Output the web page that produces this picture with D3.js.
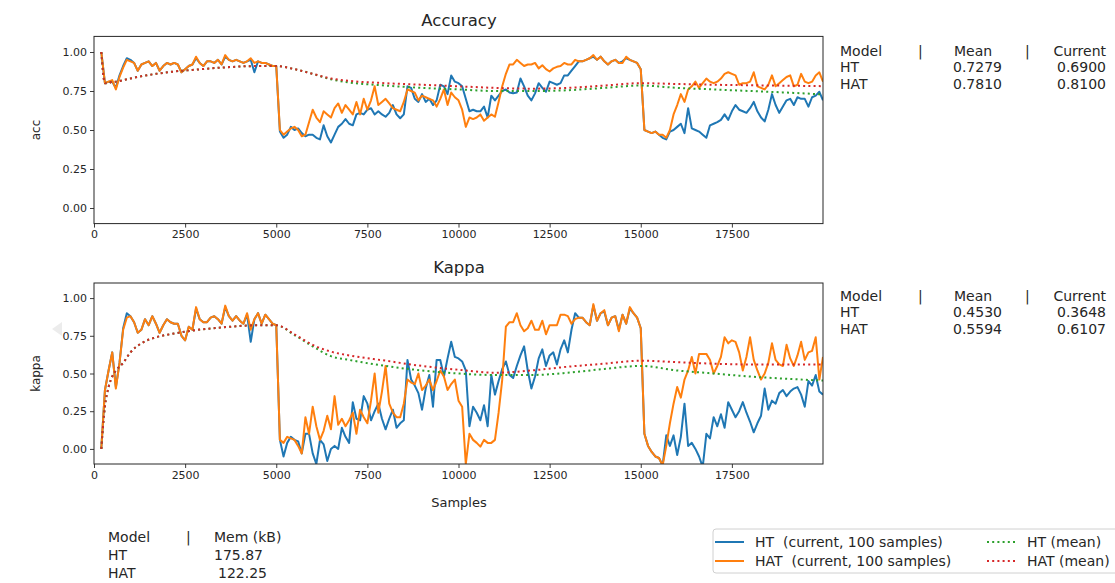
<!DOCTYPE html>
<html>
<head>
<meta charset="utf-8">
<script src="https://cdn.jsdelivr.net/npm/d3@7"></script>
<style>
  body { margin: 0; background: #fff; }
  svg { font-family: "DejaVu Sans", sans-serif; }
</style>
</head>
<body>
<svg id="chart" width="1115" height="583"></svg>
<script>
// samples seen at each evaluation (every 100 samples)
var samples = d3.range(200, 20001, 100);

// accuracy, current window
var accHT = [1.00,0.80,0.81,0.81,0.77,0.85,0.91,0.96,0.95,0.93,0.88,0.92,0.93,0.94,0.91,0.93,0.88,0.91,0.93,0.92,0.93,0.92,0.87,0.89,0.91,0.92,0.96,0.93,0.91,0.94,0.94,0.93,0.95,0.92,0.97,0.95,0.94,0.95,0.94,0.93,0.94,0.95,0.87,0.94,0.93,0.93,0.92,0.91,0.91,
  0.49,0.45,0.47,0.52,0.50,0.51,0.48,0.46,0.47,0.47,0.45,0.44,0.53,0.46,0.42,0.47,0.52,0.54,0.57,0.54,0.53,0.60,0.61,0.60,0.63,0.64,0.60,0.62,0.60,0.585,0.61,0.66,0.60,0.575,0.60,0.78,0.77,0.70,0.68,0.73,0.68,0.70,0.66,0.69,0.79,0.78,0.73,0.85,0.81,0.80,
  0.78,0.70,0.62,0.63,0.62,0.62,0.65,0.58,0.72,0.69,0.72,0.75,0.76,0.74,0.735,0.74,0.83,0.78,0.72,0.69,0.735,0.80,0.77,0.745,0.81,0.80,0.79,0.80,0.85,0.85,0.88,0.91,0.94,0.94,0.95,0.96,0.97,0.95,0.97,0.94,0.92,0.94,0.95,0.93,0.94,0.96,0.95,0.94,0.93,0.89,
  0.50,0.49,0.48,0.49,0.47,0.45,0.44,0.49,0.50,0.52,0.54,0.48,0.64,0.51,0.50,0.49,0.47,0.45,0.53,0.54,0.55,0.565,0.60,0.565,0.62,0.66,0.63,0.62,0.61,0.64,0.68,0.62,0.58,0.555,0.63,0.73,0.66,0.61,0.65,0.69,0.70,0.66,0.71,0.70,0.70,0.65,0.71,0.72,0.745,0.69];
var accHAT = [1.00,0.80,0.81,0.82,0.76,0.84,0.90,0.95,0.94,0.93,0.88,0.92,0.93,0.94,0.91,0.93,0.88,0.91,0.93,0.92,0.93,0.92,0.87,0.89,0.91,0.92,0.97,0.93,0.91,0.94,0.94,0.93,0.95,0.92,0.98,0.95,0.94,0.95,0.94,0.93,0.94,0.96,0.93,0.94,0.93,0.93,0.92,0.91,0.91,
  0.50,0.47,0.49,0.51,0.52,0.50,0.46,0.47,0.55,0.63,0.58,0.55,0.62,0.60,0.58,0.64,0.67,0.61,0.66,0.63,0.60,0.68,0.60,0.70,0.63,0.69,0.78,0.66,0.68,0.70,0.67,0.64,0.63,0.62,0.68,0.76,0.75,0.74,0.69,0.72,0.71,0.70,0.69,0.65,0.70,0.76,0.66,0.74,0.71,0.69,
  0.63,0.52,0.58,0.57,0.58,0.60,0.56,0.58,0.60,0.585,0.68,0.78,0.86,0.92,0.92,0.95,0.93,0.91,0.92,0.92,0.93,0.895,0.915,0.89,0.875,0.895,0.905,0.91,0.93,0.92,0.92,0.95,0.94,0.94,0.95,0.96,0.98,0.95,0.97,0.94,0.92,0.94,0.95,0.93,0.93,0.97,0.95,0.94,0.93,0.89,
  0.50,0.49,0.48,0.49,0.47,0.47,0.45,0.50,0.60,0.66,0.73,0.68,0.76,0.78,0.81,0.77,0.80,0.83,0.81,0.80,0.81,0.83,0.86,0.87,0.86,0.85,0.79,0.80,0.80,0.81,0.87,0.78,0.77,0.76,0.79,0.85,0.78,0.80,0.82,0.84,0.85,0.78,0.79,0.86,0.81,0.80,0.81,0.85,0.87,0.81];

// kappa, current window
var kappaHT = [0.00,0.39,0.52,0.64,0.41,0.57,0.80,0.90,0.88,0.84,0.77,0.79,0.86,0.82,0.88,0.83,0.77,0.82,0.86,0.84,0.83,0.83,0.75,0.72,0.81,0.79,0.93,0.86,0.84,0.84,0.87,0.88,0.86,0.83,0.94,0.88,0.85,0.88,0.85,0.83,0.89,0.71,0.86,0.90,0.83,0.89,0.86,0.83,0.82,
  0.06,-0.05,0.04,0.08,0.06,0.05,-0.03,0.10,0.10,-0.03,-0.10,0.06,0.03,-0.08,0.00,0.02,0.00,0.14,0.08,0.04,0.31,0.20,0.19,0.35,0.30,0.19,0.25,0.30,0.20,0.13,0.20,0.26,0.14,0.17,0.19,0.59,0.46,0.42,0.37,0.26,0.40,0.49,0.28,0.59,0.59,0.48,0.60,0.71,0.61,0.60,
  0.58,0.52,0.15,0.28,0.24,0.19,0.29,0.15,0.49,0.36,0.45,0.53,0.58,0.49,0.47,0.55,0.62,0.68,0.52,0.40,0.48,0.60,0.66,0.55,0.62,0.64,0.56,0.66,0.72,0.64,0.79,0.90,0.87,0.87,0.84,0.82,0.95,0.85,0.90,0.91,0.82,0.87,0.88,0.79,0.89,0.83,0.93,0.90,0.87,0.80,
  0.10,0.02,-0.02,-0.05,-0.06,-0.11,0.09,0.02,0.09,-0.04,0.08,0.30,0.02,0.04,0.00,-0.05,-0.12,0.10,0.07,0.21,0.15,0.23,0.14,0.31,0.26,0.21,0.25,0.31,0.24,0.18,0.11,0.17,0.22,0.40,0.26,0.32,0.30,0.37,0.39,0.35,0.38,0.40,0.41,0.36,0.28,0.45,0.42,0.49,0.38,0.36];
var kappaHAT = [0.00,0.39,0.52,0.64,0.40,0.57,0.79,0.87,0.88,0.84,0.77,0.79,0.86,0.82,0.88,0.83,0.77,0.82,0.86,0.84,0.83,0.83,0.75,0.72,0.81,0.79,0.94,0.86,0.84,0.84,0.87,0.88,0.86,0.83,0.95,0.88,0.85,0.88,0.85,0.83,0.90,0.79,0.86,0.90,0.83,0.89,0.86,0.83,0.82,
  0.06,0.04,0.08,0.07,0.06,0.02,-0.03,0.21,0.10,0.28,0.15,0.06,0.12,0.22,0.13,0.35,0.16,0.20,0.15,0.19,0.24,0.10,0.26,0.21,0.17,0.32,0.50,0.24,0.38,0.55,0.30,0.24,0.21,0.21,0.30,0.46,0.44,0.43,0.50,0.39,0.42,0.46,0.39,0.45,0.52,0.48,0.39,0.43,0.46,0.32,
  0.28,-0.10,0.10,0.06,0.04,0.015,0.06,0.04,0.04,0.06,0.24,0.46,0.81,0.84,0.84,0.90,0.82,0.78,0.80,0.85,0.79,0.79,0.85,0.76,0.82,0.82,0.82,0.89,0.89,0.88,0.83,0.86,0.87,0.87,0.84,0.82,0.96,0.85,0.90,0.92,0.82,0.87,0.88,0.78,0.89,0.83,0.94,0.90,0.87,0.80,
  0.10,0.02,-0.02,-0.05,-0.06,-0.11,0.02,0.17,0.30,0.41,0.34,0.46,0.52,0.61,0.50,0.63,0.63,0.63,0.59,0.50,0.55,0.61,0.74,0.70,0.72,0.71,0.64,0.52,0.61,0.74,0.59,0.52,0.46,0.50,0.57,0.70,0.59,0.56,0.55,0.69,0.60,0.55,0.62,0.71,0.59,0.64,0.65,0.74,0.46,0.61];

// running means
var meanSamples = [200,300,400,500,600,800,1000,1300,1700,2200,2700,3500,4500,5000,5500,6000,6500,7000,8000,9000,10000,11000,12000,13000,14000,15000,16000,17000,18000,19000,20000];
var accHTMean = [1.00,0.80,0.80,0.81,0.81,0.82,0.83,0.845,0.86,0.875,0.885,0.90,0.91,0.91,0.89,0.86,0.825,0.805,0.785,0.77,0.76,0.75,0.75,0.755,0.77,0.785,0.77,0.76,0.75,0.74,0.728];
var accHATMean = [1.00,0.80,0.80,0.81,0.81,0.82,0.83,0.845,0.86,0.875,0.885,0.90,0.91,0.91,0.89,0.86,0.83,0.815,0.80,0.79,0.78,0.77,0.765,0.77,0.785,0.80,0.795,0.79,0.787,0.784,0.781];
var kappaHTMean = [0.00,0.28,0.41,0.48,0.52,0.57,0.64,0.70,0.74,0.765,0.785,0.805,0.82,0.82,0.755,0.68,0.615,0.59,0.55,0.52,0.50,0.49,0.49,0.505,0.53,0.55,0.52,0.50,0.48,0.465,0.453];
var kappaHATMean = [0.00,0.28,0.41,0.48,0.52,0.57,0.64,0.70,0.74,0.765,0.785,0.805,0.82,0.82,0.76,0.69,0.645,0.62,0.585,0.55,0.525,0.505,0.52,0.545,0.565,0.585,0.575,0.565,0.56,0.56,0.559];

// tables
var xTicks = [0,2500,5000,7500,10000,12500,15000,17500];
var yTicks = [0,0.25,0.5,0.75,1.0];
var accTable = [["HT","0.7279","0.6900"],["HAT","0.7810","0.8100"]];
var kappaTable = [["HT","0.4530","0.3648"],["HAT","0.5594","0.6107"]];
var memTable = [["HT","175.87"],["HAT","122.25"]];

var colors = {ht:"#1f77b4", hat:"#ff7f0e", htMean:"#2ca02c", hatMean:"#d62728"};
var txt = "#262626";

var svg = d3.select("#chart");
var x = d3.scaleLinear().domain([0,20000]).range([94,823]);

function draw_panel(id, top, bottom, title, ylabel, ht, hat, htMean, hatMean){
	var y = d3.scaleLinear().domain([-0.1,1.1]).range([bottom, top]);
	var g = svg.append("g");

	g.append("clipPath").attr("id", id)
		.append("rect")
		.attr("x", x.range()[0]).attr("y", top)
		.attr("width", x.range()[1]-x.range()[0]).attr("height", bottom-top);

	var line = d3.line()
		.x(function(d){ return x(d[0]); })
		.y(function(d){ return y(d[1]); });
	var smooth = d3.line()
		.x(function(d){ return x(d[0]); })
		.y(function(d){ return y(d[1]); })
		.curve(d3.curveMonotoneX);

	var plot = g.append("g").attr("clip-path", "url(#"+id+")");
	plot.append("path").datum(d3.zip(samples, ht))
		.attr("d", line).attr("fill","none")
		.attr("stroke", colors.ht).attr("stroke-width", 2).attr("stroke-linejoin","round");
	plot.append("path").datum(d3.zip(samples, hat))
		.attr("d", line).attr("fill","none")
		.attr("stroke", colors.hat).attr("stroke-width", 2).attr("stroke-linejoin","round");
	plot.append("path").datum(d3.zip(meanSamples, htMean))
		.attr("d", smooth).attr("fill","none")
		.attr("stroke", colors.htMean).attr("stroke-width", 2).attr("stroke-dasharray","2,3.2");
	plot.append("path").datum(d3.zip(meanSamples, hatMean))
		.attr("d", smooth).attr("fill","none")
		.attr("stroke", colors.hatMean).attr("stroke-width", 2).attr("stroke-dasharray","2,3.2");

	//axes
	var xa = g.append("g").attr("transform","translate(0,"+bottom+")")
		.call(d3.axisBottom(x).tickValues(xTicks).tickFormat(d3.format("d")).tickSizeOuter(0).tickSize(4).tickPadding(3));
	var ya = g.append("g").attr("transform","translate("+x.range()[0]+",0)")
		.call(d3.axisLeft(y).tickValues(yTicks).tickFormat(d3.format(".2f")).tickSizeOuter(0).tickSize(4).tickPadding(3));
	[xa, ya].forEach(function(a){
		a.select(".domain").remove();
		a.selectAll("line").attr("stroke", txt).attr("stroke-width", 0.9);
		a.selectAll("text").attr("fill", txt).style("font-size","11px").style("font-family","DejaVu Sans");
	});

	//frame
	g.append("rect")
		.attr("x", x.range()[0]).attr("y", top)
		.attr("width", x.range()[1]-x.range()[0]).attr("height", bottom-top)
		.attr("fill","none").attr("stroke", txt).attr("stroke-width", 1);

	g.append("text").attr("x", 459).attr("y", top-10)
		.attr("text-anchor","middle").attr("fill", txt)
		.style("font-size","16.5px").text(title);
	g.append("text")
		.attr("transform","translate(40,"+((top+bottom)/2)+") rotate(-90)")
		.attr("text-anchor","middle").attr("fill", txt)
		.style("font-size","12px").text(ylabel);
}

draw_panel("clipAcc", 36.4, 223.6, "Accuracy", "acc", accHT, accHAT, accHTMean, accHATMean);
draw_panel("clipKappa", 283, 464, "Kappa", "kappa", kappaHT, kappaHAT, kappaHTMean, kappaHATMean);

svg.append("text").attr("x", 459).attr("y", 507)
	.attr("text-anchor","middle").attr("fill", txt)
	.style("font-size","13px").text("Samples");

// faint grey mark left of the kappa axis (present in the screenshot)
svg.append("path").attr("d","M52,329 L62,322 L62,336 Z").attr("fill","#ececec");

// metric tables on the right
function draw_table(rows, y0){
	var t = svg.append("g").attr("fill", txt).style("font-size","14px");
	t.append("text").attr("x",840).attr("y",y0).text("Model");
	t.append("text").attr("x",918).attr("y",y0).text("|");
	t.append("text").attr("x",954).attr("y",y0).text("Mean");
	t.append("text").attr("x",1025).attr("y",y0).text("|");
	t.append("text").attr("x",1106).attr("y",y0).attr("text-anchor","end").text("Current");
	rows.forEach(function(r, i){
		var yy = y0 + 16.3*(i+1);
		t.append("text").attr("x",840).attr("y",yy).text(r[0]);
		t.append("text").attr("x",1002).attr("y",yy).attr("text-anchor","end").text(r[1]);
		t.append("text").attr("x",1106).attr("y",yy).attr("text-anchor","end").text(r[2]);
	});
}
draw_table(accTable, 56);
draw_table(kappaTable, 301);

// memory table
var mt = svg.append("g").attr("fill", txt).style("font-size","14px");
mt.append("text").attr("x",108).attr("y",542).text("Model");
mt.append("text").attr("x",186).attr("y",542).text("|");
mt.append("text").attr("x",214).attr("y",542).text("Mem (kB)");
memTable.forEach(function(r, i){
	var yy = 542 + 18.2*(i+1);
	mt.append("text").attr("x",108).attr("y",yy).text(r[0]);
	mt.append("text").attr("x", i == 0 ? 214 : 218).attr("y",yy).text(r[1]);
});

// legend
var lg = svg.append("g");
lg.append("rect").attr("x",713).attr("y",529).attr("width",420).attr("height",44)
	.attr("rx",3).attr("fill","#fff").attr("stroke","#d0d0d0");
var items = [
	{label:"HT  (current, 100 samples)", color:colors.ht, dash:null, x:715, y:542},
	{label:"HAT  (current, 100 samples)", color:colors.hat, dash:null, x:715, y:561},
	{label:"HT (mean)", color:colors.htMean, dash:"2,3.2", x:987, y:542},
	{label:"HAT (mean)", color:colors.hatMean, dash:"2,3.2", x:987, y:561}
];
items.forEach(function(it){
	lg.append("line").attr("x1", it.x).attr("x2", it.x+29).attr("y1", it.y).attr("y2", it.y)
		.attr("stroke", it.color).attr("stroke-width", 2).attr("stroke-dasharray", it.dash);
	lg.append("text").attr("x", it.x+40).attr("y", it.y+5).attr("fill", txt)
		.style("font-size","14px").style("white-space","pre").text(it.label);
});
</script>
</body>
</html>
